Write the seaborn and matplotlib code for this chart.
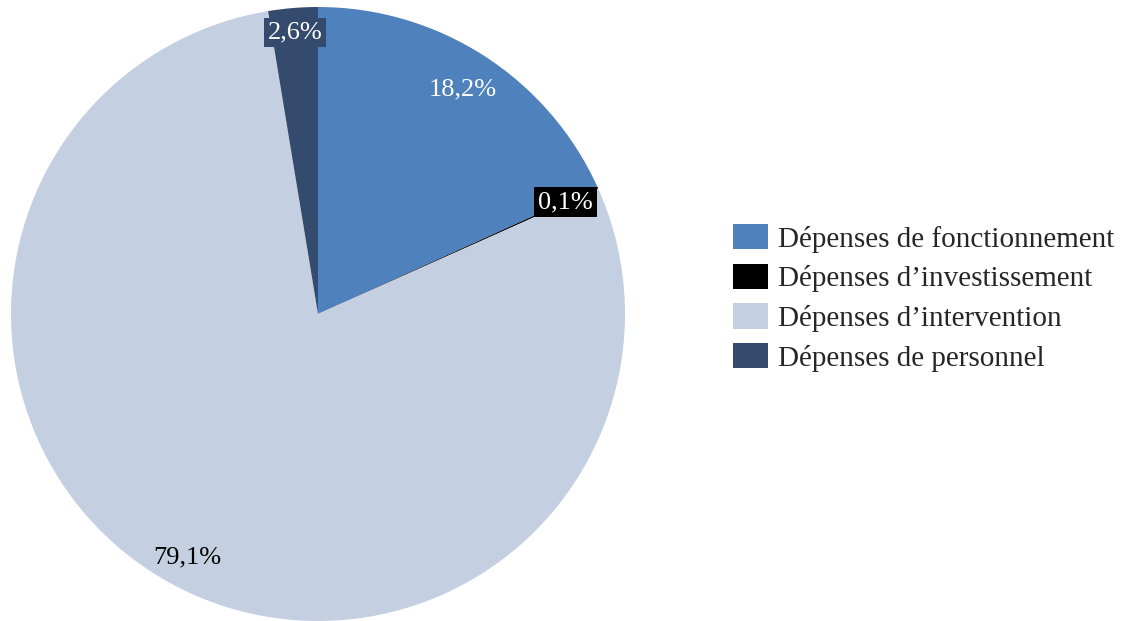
import matplotlib
matplotlib.use("Agg")
import matplotlib.pyplot as plt
import seaborn as sns
import numpy as np

categories = [
    "Dépenses de fonctionnement",
    "Dépenses d\u2019investissement",
    "Dépenses d\u2019intervention",
    "Dépenses de personnel",
]
shares = [18.2, 0.1, 79.1, 2.6]
colors = ["#4F81BD", "#000000", "#C4CFE2", "#344B6D"]
pct_labels = ["18,2%", "0,1%", "79,1%", "2,6%"]

sns.set_theme(style="white")
plt.rcParams["font.family"] = ["Liberation Serif", "DejaVu Serif"]

W, H = 1123, 621
fig = plt.figure(figsize=(W / 100, H / 100), dpi=100)
ax = fig.add_axes([10 / W, 0 / H, 616 / W, 614 / H])

wedges, _ = ax.pie(
    shares,
    colors=colors,
    startangle=90,
    counterclock=False,
    radius=1.0,
    wedgeprops=dict(linewidth=0),
)
ax.set_xlim(-1, 1)
ax.set_ylim(-1, 1)
ax.set_aspect("equal")
ax.axis("off")

# label styling per slice: distance from centre, text colour, optional box
label_dist = [0.87, 0.885, 0.90, 0.92]
text_colors = ["white", "white", "black", "white"]
boxes = [None, "#000000", None, "#344B6D"]

for w, lab, d, tc, bc in zip(wedges, pct_labels, label_dist, text_colors, boxes):
    mid = np.deg2rad((w.theta1 + w.theta2) / 2)
    x, y = d * np.cos(mid), d * np.sin(mid)
    kw = {}
    if bc is not None:
        kw["bbox"] = dict(boxstyle="square,pad=0.15", fc=bc, ec="none")
    ax.text(x, y, lab, ha="center", va="center", color=tc, fontsize=19, **kw)

fig.legend(
    wedges,
    categories,
    loc="upper left",
    bbox_to_anchor=(733 / W, 1 - 224 / H),
    frameon=False,
    fontsize=21,
    handlelength=1.2,
    handleheight=0.95,
    handletextpad=0.33,
    labelspacing=0.38,
    borderpad=0,
    borderaxespad=0,
)

fig.savefig("out.png", dpi=100, facecolor="white")
